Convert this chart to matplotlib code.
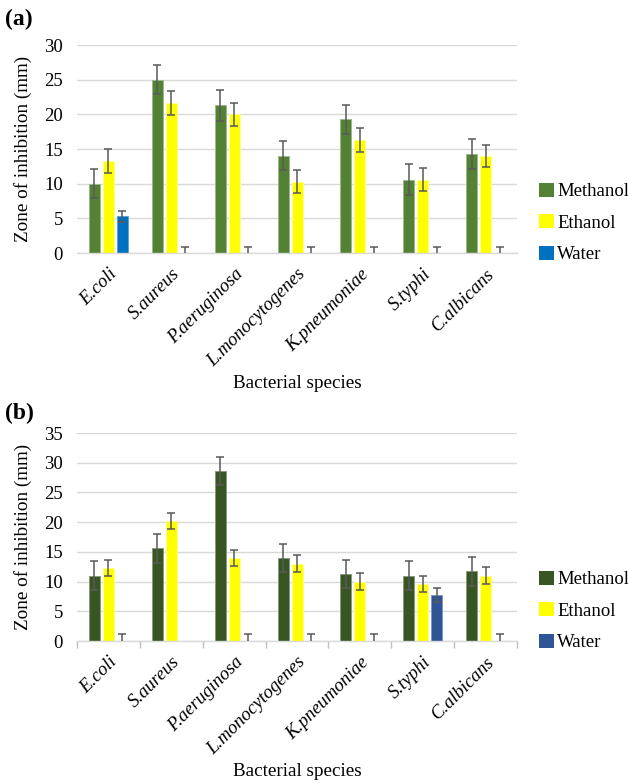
import matplotlib
matplotlib.use("Agg")
import matplotlib.pyplot as plt
import numpy as np
from matplotlib.patches import Patch

species = ["E.coli", "S.aureus", "P.aeruginosa", "L.monocytogenes",
           "K.pneumoniae", "S.typhi", "C.albicans"]
series = ["Methanol", "Ethanol", "Water"]

# Panel (a)
a_methanol = [10.0, 25.0, 21.3, 14.0, 19.3, 10.6, 14.3]
a_ethanol = [13.3, 21.6, 20.0, 10.3, 16.3, 10.6, 14.0]
a_water = [5.3, 0, 0, 0, 0, 0, 0]
a_methanol_err = [2.1, 2.1, 2.2, 2.1, 2.1, 2.2, 2.2]
a_ethanol_err = [1.7, 1.7, 1.7, 1.7, 1.7, 1.7, 1.6]
a_water_err = [0.8, 0.8, 0.8, 0.8, 0.8, 0.8, 0.8]

# Panel (b)
b_methanol = [11.0, 15.6, 28.6, 14.0, 11.3, 11.0, 11.7]
b_ethanol = [12.3, 20.2, 14.0, 13.0, 10.0, 9.6, 11.0]
b_water = [0, 0, 0, 0, 0, 7.7, 0]
b_methanol_err = [2.4, 2.4, 2.4, 2.4, 2.4, 2.4, 2.4]
b_ethanol_err = [1.4, 1.4, 1.3, 1.4, 1.4, 1.4, 1.4]
b_water_err = [1.2, 0, 1.2, 1.2, 1.2, 1.2, 1.2]

colors_a = ["#548235", "#FFFF00", "#0070C0"]
colors_b = ["#375623", "#FFFF00", "#2F5597"]
edges_a = ["#9DB88C", "#FFFF8C", "#5FA0D6"]
edges_b = ["#8A9A7E", "#FFFF8C", "#7F97C4"]

plt.rcParams['font.family'] = ['Liberation Serif', 'DejaVu Serif']

fig = plt.figure(figsize=(6.28, 7.83), dpi=100)

def panel(rect, vals, errs, colors, edges, ymax, label, label_y, legend_top, ticks_marks):
    ax = fig.add_axes(rect)
    x = np.arange(len(species))
    w = 0.175
    step = 0.222
    for i, (v, e, c, ec) in enumerate(zip(vals, errs, colors, edges)):
        pos = x + (i - 1) * step
        ax.bar(pos, v, width=w, color=c, edgecolor=ec, linewidth=0.7, zorder=2)
        e_arr = np.array(e, dtype=float)
        mask = e_arr > 0
        ax.errorbar(pos[mask], np.array(v, dtype=float)[mask], yerr=e_arr[mask],
                    fmt='none', ecolor='#595959', elinewidth=1.1, capsize=3.2,
                    capthick=1.1, zorder=3)
    ax.set_xlim(-0.5, len(species) - 0.5)
    ax.set_ylim(0, ymax)
    ax.set_yticks(np.arange(0, ymax + 1, 5))
    ax.yaxis.grid(True, color='#D9D9D9', linewidth=1.0, zorder=0)
    ax.set_axisbelow(True)
    for s in ['top', 'right', 'left']:
        ax.spines[s].set_visible(False)
    ax.spines['bottom'].set_color('#D9D9D9')
    ax.spines['bottom'].set_linewidth(1.0)
    ax.tick_params(axis='y', length=0, labelsize=13.5, pad=10)
    ax.set_xticks(x)
    ax.set_xticklabels(species, rotation=45, ha='right', rotation_mode='anchor',
                       fontstyle='italic', fontsize=13.5)
    ax.tick_params(axis='x', length=0, pad=9)
    if ticks_marks:
        ax.set_xticks(np.arange(-0.5, len(species) + 0.5, 1), minor=True)
        ax.tick_params(axis='x', which='minor', length=5, color='#BFBFBF', width=1)
    ax.set_ylabel("Zone of inhibition (mm)", fontsize=13.8, labelpad=9)
    ax.set_xlabel("Bacterial species", fontsize=13.8, va='top')
    ax.xaxis.set_label_coords(0.5, -0.588)
    fig.text(0.008, label_y, label, fontsize=17, fontweight='bold', va='center', ha='left')
    handles = [Patch(facecolor=c, edgecolor='none') for c in colors]
    fig.legend(handles, series, loc='upper left', bbox_to_anchor=(0.859, legend_top),
               frameon=False, fontsize=13.5, handlelength=0.75, handleheight=0.75,
               handletextpad=0.2, labelspacing=0.75, borderpad=0, borderaxespad=0)
    return ax

panel([77/628, 1 - 253/783, 440/628, 208/783],
      [a_methanol, a_ethanol, a_water],
      [a_methanol_err, a_ethanol_err, a_water_err],
      colors_a, edges_a, 30, "(a)", 1 - 19/783, 1 - 183/783, False)

panel([77/628, 1 - 641/783, 440/628, 208/783],
      [b_methanol, b_ethanol, b_water],
      [b_methanol_err, b_ethanol_err, b_water_err],
      colors_b, edges_b, 35, "(b)", 1 - 413/783, 1 - 571/783, True)

fig.savefig("out.png", dpi=100)
